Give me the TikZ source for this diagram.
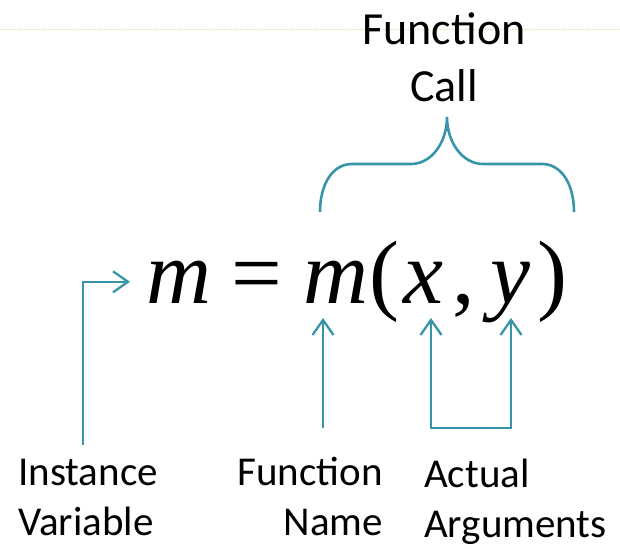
\documentclass[tikz,border=0pt]{standalone}
\usepackage{fontspec}
\setmainfont{Carlito}
\newfontfamily\eqserif{Liberation Serif}
\newfontface\eqitalic{Liberation Serif Italic}
\usepackage{xcolor}
\usepackage{tikz}
\usetikzlibrary{positioning,arrows.meta}

\definecolor{callteal}{RGB}{56,148,168}
\definecolor{guideline}{RGB}{232,222,176}

\begin{document}
\begin{tikzpicture}[
  x=1pt, y=-1pt,
  toplbl/.style={align=center, anchor=base, inner sep=0pt, font=\fontsize{46}{57}\selectfont},
  botlbl/.style={inner sep=0pt, anchor=base west, font=\fontsize{41}{50}\selectfont},
  eqglyph/.style={inner sep=0pt, anchor=base west, font=\fontsize{90}{100}\eqserif},
  eqvar/.style={eqglyph, font=\fontsize{90}{100}\eqitalic},
  callarrow/.style={draw=callteal, line width=2.3pt, line join=miter,
    -{Straight Barb[length=15pt, width=21pt, line width=2.3pt]}},
  bracepath/.style={draw=callteal, line width=2.6pt},
]
\useasboundingbox (0,0) rectangle (620,548);

% guide line
\draw[guideline, line width=0.7pt, densely dotted] (0,29) -- (620,29);

% Equation
\node[eqvar]   (mone)  at (146,303) {m};
\node[eqglyph] (eqsgn) at (231,303) {=};
\node[eqvar]   (mtwo)  at (303,303) {m};
\node[eqglyph] (lpar)  at (369,303) {(};
\node[eqvar]   (xarg)  at (403,303) {x};
\node[eqglyph] (comma) at (452,303) {,};
\node[eqvar]   (yarg)  at (490,303) {y};
\node[eqglyph] (rpar)  at (537,303) {)};

% Labels (base = last line)
\node[toplbl] (fcall) at (444,102) {Function\\Call};
\node[botlbl, align=left] (ivlbl) at (18,535) {Instance\\Variable};
\node[botlbl, align=right, anchor=base east] (fnlbl) at (383,535) {Function\\Name};
\node[botlbl, align=left] (arglbl) at (424,537) {Actual\\Arguments};

% Brace
\draw[bracepath] (320,212) .. controls (320,185) and (332,164) .. (352,164)
  -- (411,164) .. controls (431,164) and (447,143) .. (447,117)
  .. controls (447,143) and (463,164) .. (483,164)
  -- (542,164) .. controls (562,164) and (574,185) .. (574,212);

% Arrows
\coordinate (ivfoot) at (83,445);
\coordinate (fnfoot) at (323,428);
\coordinate (fntip) at (323,318);
\coordinate (xtip) at (431,318);
\coordinate (ytip) at (511,318);
\coordinate (argfoot) at (431,428);

\draw[callarrow] (ivfoot) |- ([xshift=-16pt]mone.west);
\draw[callarrow] (fnfoot) -- (fntip);
\draw[callarrow, {Straight Barb[length=15pt, width=21pt, line width=2.3pt]}-{Straight Barb[length=15pt, width=21pt, line width=2.3pt]}]
  (xtip) -- (argfoot) -- (argfoot -| ytip) -- (ytip);

\end{tikzpicture}
\end{document}
